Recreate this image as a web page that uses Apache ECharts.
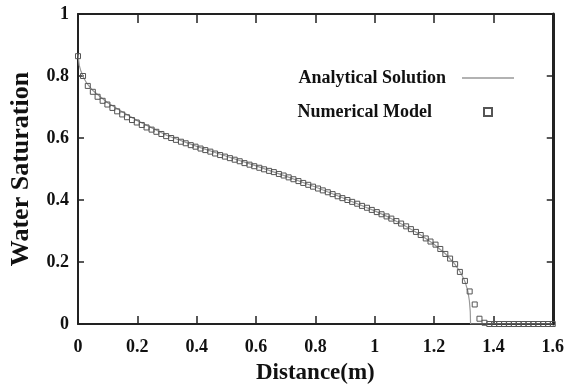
<!DOCTYPE html>
<html>
<head>
<meta charset="utf-8">
<script src="https://cdn.jsdelivr.net/npm/echarts@6/dist/echarts.min.js"></script>
<style>
  html, body { margin: 0; padding: 0; background: #fff; }
  #chart { width: 567px; height: 390px; }
</style>
</head>
<body>
<div id="chart"></div>
<script>
// axis ticks
const xTicks = [0, 0.2, 0.4, 0.6, 0.8, 1, 1.2, 1.4, 1.6];
const yTicks = [0, 0.2, 0.4, 0.6, 0.8, 1];

// analytical solution
const anaX = [0, 0.004, 0.01, 0.02, 0.03, 0.05, 0.075, 0.1, 0.15, 0.2,
  0.3, 0.4, 0.5, 0.6, 0.7, 0.8, 0.9, 1.0, 1.05, 1.1,
  1.15, 1.2, 1.24, 1.27, 1.29, 1.305, 1.314, 1.319, 1.322, 1.323, 1.6];
const anaY = [0.87, 0.835, 0.815, 0.793, 0.776, 0.753, 0.733, 0.714, 0.684, 0.656,
  0.608, 0.573, 0.541, 0.510, 0.477, 0.442, 0.404, 0.365, 0.343, 0.318,
  0.290, 0.257, 0.225, 0.193, 0.165, 0.135, 0.105, 0.075, 0.040, 0, 0];

// numerical model (one square per cell)
const numX = [0.000, 0.017, 0.033, 0.050, 0.066, 0.083, 0.099, 0.116, 0.132, 0.149,
  0.165, 0.182, 0.198, 0.215, 0.231, 0.248, 0.264, 0.281, 0.297, 0.314,
  0.330, 0.347, 0.363, 0.380, 0.396, 0.413, 0.429, 0.446, 0.462, 0.479,
  0.495, 0.512, 0.528, 0.545, 0.561, 0.578, 0.594, 0.611, 0.627, 0.644,
  0.660, 0.677, 0.693, 0.710, 0.726, 0.743, 0.759, 0.776, 0.792, 0.809,
  0.825, 0.842, 0.858, 0.875, 0.891, 0.908, 0.924, 0.941, 0.957, 0.974,
  0.990, 1.007, 1.023, 1.040, 1.056, 1.073, 1.089, 1.106, 1.122, 1.139,
  1.155, 1.172, 1.188, 1.205, 1.221, 1.238, 1.254, 1.271, 1.287, 1.304,
  1.320, 1.337, 1.353, 1.370, 1.386, 1.403, 1.419, 1.436, 1.452, 1.469,
  1.485, 1.502, 1.518, 1.535, 1.551, 1.568, 1.584, 1.600];
const numY = [0.864, 0.800, 0.768, 0.749, 0.733, 0.720, 0.708, 0.697, 0.686, 0.676,
  0.667, 0.658, 0.650, 0.642, 0.634, 0.627, 0.620, 0.613, 0.606, 0.600,
  0.594, 0.588, 0.583, 0.577, 0.572, 0.566, 0.561, 0.556, 0.550, 0.545,
  0.540, 0.535, 0.530, 0.525, 0.519, 0.514, 0.509, 0.504, 0.499, 0.494,
  0.490, 0.484, 0.479, 0.473, 0.467, 0.461, 0.455, 0.449, 0.443, 0.437,
  0.431, 0.425, 0.419, 0.412, 0.406, 0.400, 0.394, 0.388, 0.381, 0.375,
  0.368, 0.361, 0.354, 0.347, 0.340, 0.332, 0.324, 0.315, 0.306, 0.297,
  0.287, 0.276, 0.266, 0.256, 0.242, 0.226, 0.211, 0.193, 0.168, 0.139,
  0.105, 0.063, 0.017, 0.004, 0, 0, 0, 0, 0, 0,
  0, 0, 0, 0, 0, 0, 0, 0];

const font = '"Liberation Serif", "DejaVu Serif", serif';
const axisColor = '#222';

const chart = echarts.init(document.getElementById('chart'), null, { renderer: 'canvas' });

// frame axes share the same scale
const xBase = {
  type: 'value',
  min: xTicks[0],
  max: xTicks[xTicks.length - 1],
  interval: xTicks[1] - xTicks[0],
  splitLine: { show: false },
  axisLine: { onZero: false, lineStyle: { color: axisColor, width: 2 } },
  axisTick: { inside: true, length: 8, lineStyle: { color: axisColor, width: 1.5 } },
};
const yBase = {
  type: 'value',
  min: yTicks[0],
  max: yTicks[yTicks.length - 1],
  interval: yTicks[1] - yTicks[0],
  splitLine: { show: false },
  axisLine: { onZero: false, lineStyle: { color: axisColor, width: 2 } },
  axisTick: { inside: true, length: 6, lineStyle: { color: axisColor, width: 1.5 } },
};

const legendText = { fontFamily: font, fontWeight: 'bold', fontSize: 18, color: '#111' };

chart.setOption({
  animation: false,
  backgroundColor: '#fff',
  textStyle: { fontFamily: font },
  grid: { left: 77, right: 10, top: 14, bottom: 60, containLabel: false },
  legend: [
    {
      data: [{ name: 'Analytical Solution', icon: 'rect' }],
      right: 48,
      top: 64,
      orient: 'vertical',
      align: 'right',
      itemWidth: 52,
      itemHeight: 1.5,
      textStyle: Object.assign({ padding: [0, 11, 0, 0] }, legendText),
    },
    {
      data: [{ name: 'Numerical Model' }],
      right: 69,
      top: 98,
      orient: 'vertical',
      align: 'right',
      itemWidth: 8,
      itemHeight: 8,
      textStyle: Object.assign({ padding: [0, 47, 0, 0] }, legendText),
    },
  ],
  xAxis: [
    Object.assign({}, xBase, {
      position: 'bottom',
      name: 'Distance(m)',
      nameLocation: 'middle',
      nameGap: 38,
      nameTextStyle: { fontFamily: font, fontWeight: 'bold', fontSize: 23, color: '#111' },
      axisLabel: { fontFamily: font, fontWeight: 'bold', fontSize: 18, color: '#111', margin: 14 },
    }),
    Object.assign({}, xBase, {
      position: 'top',
      axisLabel: { show: false },
      axisTick: { inside: true, length: 9, lineStyle: { color: axisColor, width: 1.5 } },
    }),
  ],
  yAxis: [
    Object.assign({}, yBase, {
      position: 'left',
      name: 'Water Saturation',
      nameLocation: 'middle',
      nameGap: 44,
      nameTextStyle: { fontFamily: font, fontWeight: 'bold', fontSize: 26, color: '#111' },
      axisLabel: { fontFamily: font, fontWeight: 'bold', fontSize: 18, color: '#111', margin: 9 },
    }),
    Object.assign({}, yBase, {
      position: 'right',
      axisLabel: { show: false },
      axisLine: { onZero: false, lineStyle: { color: axisColor, width: 3 } },
    }),
  ],
  series: [
    {
      name: 'Analytical Solution',
      type: 'line',
      symbol: 'none',
      data: anaX.map((x, i) => [x, anaY[i]]),
      lineStyle: { color: '#999', width: 1.2 },
      itemStyle: { color: '#999' },
      z: 1,
    },
    {
      name: 'Numerical Model',
      type: 'scatter',
      symbol: 'rect',
      symbolSize: 5,
      data: numX.map((x, i) => [x, numY[i]]),
      itemStyle: { color: 'rgba(255,255,255,0)', borderColor: '#555', borderWidth: 1, opacity: 1 },
      z: 2,
    },
  ],
});
</script>
</body>
</html>
